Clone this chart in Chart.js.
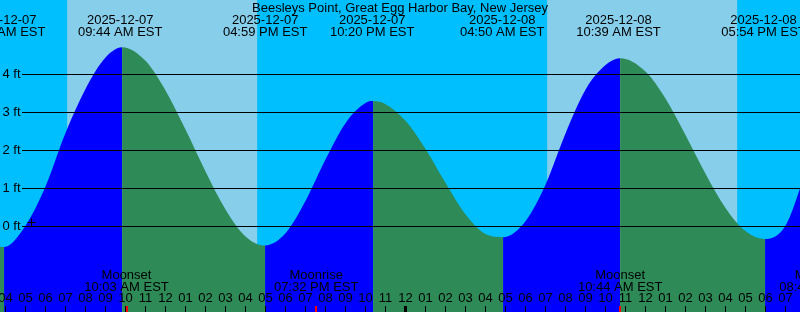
<!DOCTYPE html>
<html>
<head>
<meta charset="utf-8">
<title>Beesleys Point tides</title>
<script src="https://cdn.jsdelivr.net/npm/chart.js@4.4.1/dist/chart.umd.min.js"></script>
<style>
  html, body { margin: 0; padding: 0; background: #00bfff; }
  #wrap { width: 800px; height: 312px; }
</style>
</head>
<body>
<div id="wrap"><canvas id="tideChart" width="800" height="312"></canvas></div>
<script>
const stationName = 'Beesleys Point, Great Egg Harbor Bay, New Jersey';

// tide curve: hours after 2025-12-07 00:00 EST / feet
const curveHours = [2, 3, 3.93, 5, 6, 7, 8, 9, 9.83,
  11, 12, 13, 14, 15, 16, 16.98,
  18, 19, 20, 21, 22, 22.38,
  23, 24, 25, 26, 27, 28, 28.88,
  30, 31, 32, 33, 34, 34.73,
  36, 37, 38, 39, 40, 41, 41.98,
  43, 44, 45];
const curveFeet = [0.15, -0.38, -0.54, 0.02, 1.05, 2.46, 3.62, 4.45, 4.72,
  4.36, 3.58, 2.55, 1.45, 0.45, -0.26, -0.5,
  -0.18, 0.67, 1.76, 2.72, 3.25, 3.3,
  3.22, 2.78, 2.04, 1.15, 0.32, -0.2, -0.28,
  0.14, 1.1, 2.45, 3.6, 4.25, 4.43,
  4.08, 3.37, 2.41, 1.39, 0.49, -0.12, -0.33,
  0.02, 1.4, 2.7];

// high / low tide labels
const tideDates = ['2025-12-07', '2025-12-07', '2025-12-07', '2025-12-07', '2025-12-08', '2025-12-08', '2025-12-08'];
const tideTimes = ['03:53 AM EST', '09:44 AM EST', '04:59 PM EST', '10:20 PM EST', '04:50 AM EST', '10:39 AM EST', '05:54 PM EST'];

// moon events
const moonNames = ['Moonset', 'Moonrise', 'Moonset', 'Moonrise'];
const moonDates = ['2025-12-07', '2025-12-07', '2025-12-08', '2025-12-08'];
const moonTimes = ['10:03 AM EST', '07:32 PM EST', '10:44 AM EST', '08:48 PM EST'];

// daylight
const sunriseDates = ['2025-12-07', '2025-12-08'];
const sunriseTimes = ['07:05 AM', '07:05 AM'];
const sunsetTimes = ['04:35 PM', '04:35 PM'];

const levelTicks = [0, 1, 2, 3, 4];
const levelLabels = ['0 ft', '1 ft', '2 ft', '3 ft', '4 ft'];

// the little "+" mark
const markHours = [5.3];
const markFeet = [0.105];

const dayColor = '#87ceeb';
const nightColor = '#00bfff';
const riseColor = '#0000ff';
const fallColor = '#2e8b57';
const font = '13px "Liberation Sans", Arial, sans-serif';

function toHours(date, time) {
  const day = Number(date.slice(8, 10)) - 7;
  const parts = time.split(' ');
  let [h, m] = parts[0].split(':').map(Number);
  if (parts[1] === 'PM' && h < 12) h += 12;
  if (parts[1] === 'AM' && h === 12) h = 0;
  return day * 24 + h + m / 60;
}

const tidePlugin = {
  id: 'tideDecor',
  beforeDraw(chart) {
    const { ctx, chartArea: a, scales: { x } } = chart;
    ctx.save();
    ctx.fillStyle = nightColor;
    ctx.fillRect(a.left, a.top, a.right - a.left, a.bottom - a.top);
    ctx.fillStyle = dayColor;
    sunriseDates.forEach((d, i) => {
      const x0 = x.getPixelForValue(toHours(d, sunriseTimes[i]));
      const x1 = x.getPixelForValue(toHours(d, sunsetTimes[i]));
      ctx.fillRect(x0, a.top, x1 - x0, a.bottom - a.top);
    });
    ctx.restore();
  },
  afterDatasetsDraw(chart) {
    const { ctx, chartArea: a, scales: { x, y } } = chart;
    ctx.save();
    ctx.font = font;
    ctx.fillStyle = '#000';

    // level lines and labels
    levelTicks.forEach((v, i) => {
      const py = y.getPixelForValue(v);
      ctx.fillRect(22, Math.round(py - 0.5), a.right - 22, 1);
      ctx.textAlign = 'right';
      ctx.fillText(levelLabels[i], 20.5, py + 3.5);
    });

    ctx.textAlign = 'center';
    ctx.fillText(stationName, 400, 12);

    // tide event labels
    tideDates.forEach((d, i) => {
      const px = x.getPixelForValue(toHours(d, tideTimes[i]));
      ctx.fillText(d, px, 24);
      ctx.fillText(tideTimes[i], px, 36);
    });

    // moon labels
    moonNames.forEach((n, i) => {
      const px = x.getPixelForValue(toHours(moonDates[i], moonTimes[i]));
      ctx.fillStyle = '#000';
      ctx.fillText(n, px, 279);
      ctx.fillText(moonTimes[i], px, 291);
      ctx.fillStyle = '#ff0000';
      ctx.fillRect(Math.round(px) - 1, a.bottom - 6, 2, 6);
    });

    // hour ticks
    ctx.fillStyle = '#000';
    for (let h = Math.ceil(x.min); h <= x.max; h++) {
      const px = x.getPixelForValue(h);
      const w = h % 24 === 0 ? 3 : 1;
      ctx.fillRect(Math.round(px - w / 2), a.bottom - 6, w, 6);
      const label = String(h % 12 === 0 ? 12 : h % 12).padStart(2, '0');
      ctx.fillText(label, px, 302);
    }
    ctx.restore();
  }
};

new Chart(document.getElementById('tideChart'), {
  type: 'line',
  data: {
    datasets: [
      {
        type: 'scatter',
        data: markHours.map((h, i) => ({ x: h, y: markFeet[i] })),
        pointStyle: 'cross',
        pointRadius: 4,
        borderColor: '#000',
        borderWidth: 1
      },
      {
        data: curveHours.map((h, i) => ({ x: h, y: curveFeet[i] })),
        fill: 'start',
        backgroundColor: fallColor,
        borderColor: 'rgba(0,0,0,0)',
        borderWidth: 0,
        pointRadius: 0,
        cubicInterpolationMode: 'monotone',
        segment: {
          backgroundColor: c => (c.p1.parsed.y >= c.p0.parsed.y ? riseColor : fallColor)
        }
      }
    ]
  },
  options: {
    responsive: false,
    animation: false,
    layout: { padding: 0, autoPadding: false },
    plugins: { legend: { display: false }, tooltip: { enabled: false }, title: { display: false } },
    scales: {
      x: { type: 'linear', min: 3.725, max: 43.725, display: false },
      y: { type: 'linear', min: -2.25, max: 226.5 / 38, display: false }
    }
  },
  plugins: [tidePlugin]
});
</script>
</body>
</html>
